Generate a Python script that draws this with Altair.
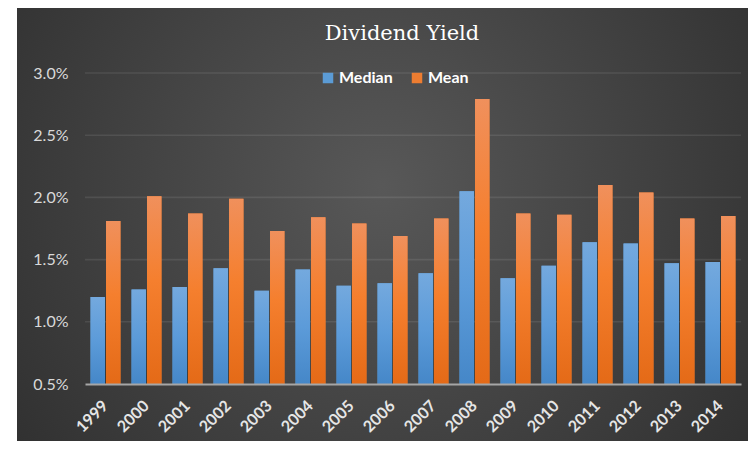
import altair as alt
import pandas as pd

# ---- data ----
years = ["1999", "2000", "2001", "2002", "2003", "2004", "2005", "2006",
         "2007", "2008", "2009", "2010", "2011", "2012", "2013", "2014"]
median_pct = [1.20, 1.26, 1.28, 1.43, 1.25, 1.42, 1.29, 1.31,
              1.39, 2.05, 1.35, 1.45, 1.64, 1.63, 1.47, 1.48]
mean_pct = [1.81, 2.01, 1.87, 1.99, 1.73, 1.84, 1.79, 1.69,
            1.83, 2.79, 1.87, 1.86, 2.10, 2.04, 1.83, 1.85]
series_names = ["Median", "Mean"]
y_ticks = [0.005, 0.010, 0.015, 0.020, 0.025, 0.030]
grid_vals = [0.010, 0.015, 0.020, 0.025, 0.030]
title_text = "Dividend Yield"

rows = []
for i, y in enumerate(years):
    rows.append({"year": y, "series": "Median", "value": median_pct[i] / 100})
    rows.append({"year": y, "series": "Mean", "value": mean_pct[i] / 100})
df = pd.DataFrame(rows)

W, H = 656, 311

bg_grad = {
    "gradient": "radial", "x1": 0.5, "y1": 0.45, "r1": 0, "x2": 0.5, "y2": 0.45, "r2": 0.72,
    "stops": [{"offset": 0, "color": "#585858"}, {"offset": 1, "color": "#2a2a2a"}],
}
med_grad = {
    "gradient": "linear", "x1": 0, "y1": 0, "x2": 0, "y2": 1,
    "stops": [{"offset": 0, "color": "#74a9de"}, {"offset": 0.5, "color": "#5c9bd9"},
              {"offset": 1, "color": "#4587c8"}],
}
mean_grad = {
    "gradient": "linear", "x1": 0, "y1": 0, "x2": 0, "y2": 1,
    "stops": [{"offset": 0, "color": "#f0905c"}, {"offset": 0.45, "color": "#f57f2e"},
              {"offset": 1, "color": "#e46a17"}],
}

yscale = alt.Scale(domain=[0.005, 0.03], zero=False, nice=False)
xscale = alt.Scale(paddingInner=0.27, paddingOuter=0.135)
offscale = alt.Scale(domain=series_names, paddingInner=0.07)

background = alt.Chart(pd.DataFrame({"k": [0]})).mark_rect(
    fill=bg_grad, clip=False
).encode(
    x=alt.value(-68), x2=alt.value(W + 7), y=alt.value(-69), y2=alt.value(H + 57)
)

grid = alt.Chart(pd.DataFrame({"g": grid_vals})).mark_rule(
    color="white", strokeOpacity=0.09, strokeWidth=1.6
).encode(
    y=alt.Y("g:Q", scale=yscale, title=None)
)

x_enc = alt.X(
    "year:N", sort=years, scale=xscale, title=None,
    axis=alt.Axis(labelAngle=-45, labelAlign="right", labelBaseline="middle",
                  labelColor="#e6e6e6", labelFont="Lato", labelFontSize=16,
                  labelFontWeight="bold", labelPadding=19, ticks=False,
                  domainColor="#a6a6a6", domainWidth=2, grid=False, zindex=1),
)
off_enc = alt.XOffset("series:N", sort=series_names, scale=offscale)
y_enc = alt.Y(
    "value:Q", scale=yscale, title=None,
    axis=alt.Axis(values=y_ticks, format=".1%", grid=False, domain=False,
                  ticks=False, labelColor="#d9d9d9", labelFont="Lato",
                  labelFontSize=16, labelPadding=17, zindex=1),
)

bars_base = alt.Chart(df).mark_bar().encode(
    x=x_enc, xOffset=off_enc, y=y_enc, y2=alt.datum(0.005),
    color=alt.Color(
        "series:N", sort=series_names,
        scale=alt.Scale(domain=series_names, range=["#5b9bd5", "#ed7d31"]),
        legend=alt.Legend(orient="none", legendX=235, legendY=-3,
                          direction="horizontal", title=None,
                          labelColor="white", labelFont="Lato",
                          labelFontSize=16, labelFontWeight="bold",
                          symbolType="square", symbolSize=110,
                          symbolStrokeWidth=0, labelOffset=3,
                          columnPadding=16, zindex=2),
    ),
)

bars_grad = alt.Chart(df).mark_bar().encode(
    x=x_enc, xOffset=off_enc, y=y_enc, y2=alt.datum(0.005),
    color=alt.condition(alt.datum.series == "Median",
                        alt.value(med_grad), alt.value(mean_grad)),
)

title = alt.Chart(pd.DataFrame({"t": [title_text]})).mark_text(
    font="DejaVu Serif", fontSize=21, color="white", align="center",
    baseline="alphabetic"
).encode(
    text="t:N", x=alt.value(317), y=alt.value(-33)
)

chart = alt.layer(background, grid, bars_base, bars_grad, title).properties(
    width=W, height=H,
    autosize=alt.AutoSizeParams(type="none"),
    padding={"left": 77, "top": 65, "right": 7, "bottom": 57},
    background="white",
).configure_view(stroke=None)

chart.save("out.html", embed_options={"renderer": "svg", "actions": False})
